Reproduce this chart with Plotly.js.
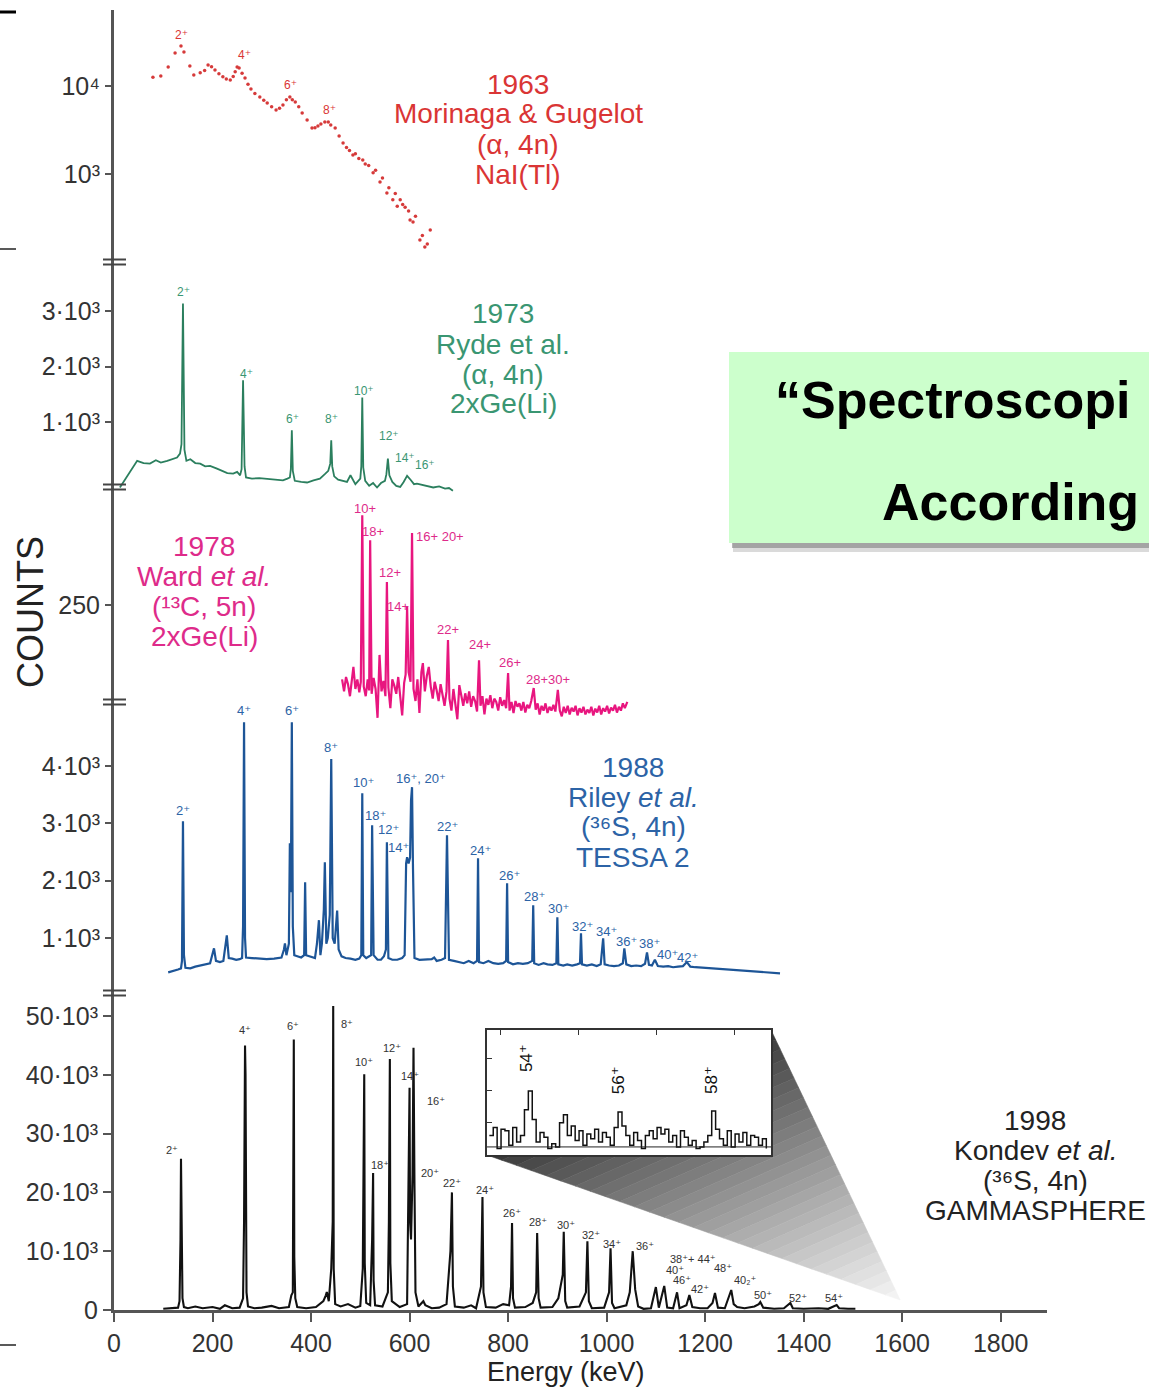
<!DOCTYPE html>
<html><head><meta charset="utf-8">
<script src="https://cdn.plot.ly/plotly-3.0.1.min.js"></script>
<style>html,body{margin:0;padding:0;background:#fff;}#chart{width:1149px;height:1389px;}</style>
</head><body><div id="chart"></div>
<script>
// ===================== DATA =====================
// x axis (shared)
const energyTicks = [0, 200, 400, 600, 800, 1000, 1200, 1400, 1600, 1800];

// 1963 Morinaga & Gugelot (log counts)
const redEnergy = [79,95,110,124,136,142,154,162,175,184,191,198,205,213,221,228,236,242,246,250,254,260,266,272,278,286,296,304,311,320,329,336,343,350,357,362,368,375,382,392,402,408,414,420,428,435,440,449,457,465,472,478,485,490,497,505,510,517,526,531,540,545,554,558,566,571,575,581,586,591,598,601,607,612,621,626,631,636,642];
const redCounts = [12600,13000,16400,23700,28500,24300,16900,13300,14100,15000,17300,16500,15200,13800,12700,12000,11700,12800,14500,16400,16000,14000,12300,10500,9250,8200,7500,6900,6400,5800,5340,5600,6080,7000,7500,7000,6580,5800,4930,4100,3330,3350,3510,3700,3900,3900,3600,3330,2700,2250,2000,1850,1640,1700,1500,1440,1300,1250,1030,1100,810,900,610,700,510,600,430,510,450,420,380,300,285,330,178,200,148,160,231];
const redTickVals = [1000, 10000];
const redTickText = ['10³', '10⁴'];
const redLabels = ['2⁺','4⁺','6⁺','8⁺'];
const redLabelE = [138, 264, 359, 438];
const redLabelC = [38000, 22500, 10300, 5340];

// 1973 Ryde et al.
const greenEnergy = [12,25,39,47,60,73,85,95,108,118,128,134,137,140,143,147,155,165,175,185,195,209,220,230,242,250,256,259,262,265,268,280,295,311,325,343,352,357,359,361,363,367,380,392,405,418,428,435,439,441,443,447,455,465,473,480,490,500,502,504,506,510,518,526,534,542,550,553,556,559,565,573,581,588,595,602,609,615,625,635,648,660,672,680,688];
const greenCounts = [-180,0,180,300,260,250,310,270,300,330,360,430,600,3135,500,300,330,260,250,200,210,160,120,80,70,100,40,150,1750,200,0,-20,-10,-20,-40,-50,-20,0,150,850,120,-60,-80,-90,-50,-20,60,120,250,670,200,20,-40,-60,-80,40,-120,-20,200,1440,180,-60,-150,-100,-180,-100,-60,60,340,40,-80,-150,-170,-80,30,-40,-120,-110,-130,-150,-180,-160,-200,-190,-240];
const greenTickVals = [1000, 2000, 3000];
const greenTickText = ['1·10³', '2·10³', '3·10³'];
const greenLabels = ['2⁺','4⁺','6⁺','8⁺','10⁺','12⁺','14⁺','16⁺'];
const greenLabelE = [142, 268, 363, 441, 508, 558, 591, 631];
const greenLabelC = [3342, 1865, 1054, 1054, 1558, 748, 351, 225];

// 1978 Ward et al.
const pinkEnergy = [463,467,471,475,479,482,486,490,494,498,501,504,507,511,515,518,520,523,527,531,535,539,543,547,551,554,557,561,565,569,573,577,581,585,589,592,595,598,602,605,608,612,616,620,624,627,631,635,639,643,647,651,655,659,663,667,671,675,678,681,685,689,693,697,701,705,709,713,717,721,725,729,733,737,741,744,748,752,756,760,764,768,772,776,780,784,788,792,796,800,803,807,811,815,819,823,827,831,835,839,843,847,852,856,860,864,868,872,876,880,884,888,892,896,901,905,909,913,917,921,925,929,933,937,941,945,949,953,957,961,965,969,973,977,981,985,989,993,997,1001,1005,1009,1013,1017,1021,1025,1029,1033,1037,1042];
const pinkCounts = [95,70,100,85,60,92,121,75,95,68,90,437,80,60,95,72,385,65,98,75,15,146,70,92,60,298,78,35,95,82,65,100,55,20,88,105,246,110,90,400,75,50,95,25,110,129,70,102,121,80,55,90,72,50,85,62,40,70,177,55,30,75,48,12,83,58,40,66,45,70,38,60,50,28,135,40,60,22,55,42,62,35,55,48,30,58,40,52,35,108,30,48,25,50,38,45,30,48,26,42,35,50,77,32,45,22,40,30,45,25,38,30,42,28,73,30,18,38,25,40,22,36,28,40,20,35,26,38,22,32,25,38,20,34,26,40,22,35,28,40,24,36,30,42,26,38,30,45,35,48];
const pinkTickVals = [250];
const pinkTickText = ['250'];
const pinkLabels = ['10+','18+','16+ 20+','12+','14+','22+','24+','26+','28+30+'];
const pinkLabelE = [510, 526, 662, 560, 577, 678, 743, 804, 881];
const pinkLabelC = [452, 404, 392, 317, 246, 198, 167, 131, 94];

// 1988 Riley et al.
const blueEnergy = [110,120,130,136,138,140,142,145,155,165,175,185,195,203,207,215,222,229,233,240,248,255,260,262,264,266,268,280,295,310,325,340,345,347,350,355,357,359,361,363,366,372,380,386,388,390,398,408,412,416,419,422,426,428,431,434,438,441,444,448,453,456,462,470,480,490,498,502,504,506,512,518,522,524,527,535,542,548,552,554,557,565,575,585,590,593,595,598,601,603,605,607,610,620,635,645,650,655,665,672,676,680,690,700,710,720,730,737,739,741,750,760,770,780,790,796,798,800,810,820,830,840,849,851,853,862,872,880,890,898,900,902,912,920,930,940,946,948,950,960,970,980,988,993,996,1005,1015,1025,1033,1036,1040,1050,1060,1070,1078,1082,1086,1092,1098,1104,1115,1125,1135,1145,1155,1163,1170,1180,1195,1210,1225,1240,1255,1270,1285,1300,1315,1330,1352];
const blueCounts = [400,420,450,470,600,3037,700,480,470,500,520,540,560,820,600,580,600,1047,650,640,620,630,650,1200,4764,1000,660,650,640,630,640,660,800,907,700,900,2650,1800,4764,1200,700,680,660,700,1970,700,680,650,900,1310,700,900,1500,2320,900,1000,1400,4120,1000,900,1480,800,680,650,640,620,640,700,3525,700,650,680,700,2967,700,620,620,680,800,2670,650,620,620,650,700,2300,2408,2300,2400,3400,3630,2200,650,620,620,630,660,600,620,650,2790,620,600,580,560,600,560,600,2390,580,560,600,560,550,560,600,1955,580,540,560,550,560,600,1570,560,530,560,540,530,560,1360,540,520,540,520,540,560,1080,540,520,540,510,540,995,540,520,510,520,560,820,540,510,520,510,550,750,530,520,620,510,500,510,490,500,510,580,500,490,480,470,460,450,440,430,420,410,400,390,384];
const blueTickVals = [1000, 2000, 3000, 4000];
const blueTickText = ['1·10³', '2·10³', '3·10³', '4·10³'];
const blueLabels = ['2⁺','4⁺','6⁺','8⁺','10⁺','16⁺, 20⁺','18⁺','12⁺','14⁺','22⁺','24⁺','26⁺','28⁺','30⁺','32⁺','34⁺','36⁺','38⁺','40⁺','42⁺'];
const blueLabelE = [140, 264, 361, 441, 506, 623, 530, 558, 577, 678, 745, 802, 853, 903, 952, 999, 1041, 1088, 1123, 1165];
const blueLabelC = [3229, 4974, 4974, 4328, 3717, 3787, 3141, 2897, 2583, 2949, 2530, 2094, 1728, 1518, 1204, 1117, 942, 908, 716, 663];

// 1998 Kondev et al.
const blackEnergy = [100,120,130,133,135,136,137,139,142,150,165,180,200,215,225,240,255,262,264,266,267,269,272,285,300,320,335,355,360,363,364,365,366,368,372,390,410,425,430,432,436,441,444,445,446,449,460,475,490,500,505,507,508,509,512,520,524,526,527,530,545,556,558,560,561,564,580,595,598,600,601,603,606,608,610,612,618,628,632,645,660,675,683,686,688,692,710,725,735,745,748,750,755,775,790,802,806,808,810,814,835,850,857,859,862,866,890,902,911,913,916,920,945,958,961,964,970,995,1005,1008,1011,1016,1040,1047,1053,1058,1064,1075,1090,1100,1106,1117,1123,1135,1143,1148,1162,1168,1174,1190,1205,1215,1220,1226,1240,1253,1258,1265,1280,1300,1309,1312,1318,1340,1360,1370,1373,1378,1400,1430,1450,1467,1472,1490,1505];
const blackCounts = [200,300,400,1500,12000,25700,15000,2000,500,300,600,300,500,200,800,300,400,2000,15000,45000,40000,3000,600,300,400,700,300,500,2500,3000,20000,46000,9000,2000,500,300,500,1500,2500,3060,1500,7000,15000,51700,7000,1000,600,1000,400,700,7000,30000,40100,8000,1200,800,12000,23300,5000,800,600,3000,15000,42700,8000,1500,500,1000,20000,37800,15000,12000,23000,44600,21000,3000,600,1500,800,300,400,1000,10000,20000,4000,600,400,800,300,4000,19200,3000,500,400,1000,800,4000,14800,2000,400,500,1200,3000,13100,2000,400,500,2000,6000,13300,1500,400,600,3000,11700,1500,300,400,3000,10500,1200,300,800,3000,10000,3500,600,200,300,3900,400,4100,400,300,3000,300,800,2550,500,300,300,1200,2900,400,300,3400,1000,500,300,600,1000,1360,400,200,300,900,1190,300,200,300,200,850,300,200,200];
const blackTickVals = [0, 10000, 20000, 30000, 40000, 50000];
const blackTickText = ['0', '10·10³', '20·10³', '30·10³', '40·10³', '50·10³'];
const blackLabels = ['2⁺','4⁺','6⁺','8⁺','10⁺','12⁺','14⁺','16⁺','18⁺','20⁺','22⁺','24⁺','26⁺','28⁺','30⁺','32⁺','34⁺','36⁺','38⁺+ 44⁺','40⁺','46⁺','42⁺','48⁺','40₂⁺','50⁺','52⁺','54⁺'];
const blackLabelE = [118,266,363,473,507,564,601,654,540,641,686,753,808,861,918,968,1011,1078,1175,1139,1153,1190,1236,1281,1317,1389,1462];
const blackLabelC = [27211,47620,48300,48640,42177,44558,39796,35545,24660,23300,21600,20408,16497,14966,14456,12755,11225,10884,8674,6803,5102,3571,7143,5102,2551,2041,2041];

// Inset (high-spin region, 54+ .. 58+)
const insetEnergy = [1486,1491,1496,1501,1506,1511,1516,1521,1526,1531,1536,1541,1546,1551,1556,1561,1566,1571,1576,1581,1586,1591,1596,1601,1606,1611,1616,1621,1626,1631,1636,1641,1646,1651,1656,1661,1666,1671,1676,1681,1686,1691,1696,1701,1706,1711,1716,1721,1726,1731,1736,1741,1746,1751,1756,1761,1766,1771,1776,1781,1786,1791,1796,1801,1806,1811,1816,1821,1826,1831,1836,1841];
const insetCounts = [60,85,20,80,75,30,85,40,60,140,198,110,40,70,55,20,35,25,100,125,60,90,45,75,30,65,50,80,40,70,55,30,85,133,90,60,30,70,45,20,60,75,50,85,65,80,40,60,25,75,55,30,45,20,25,40,60,136,80,50,30,75,25,65,40,70,30,60,55,30,50,20];
const insetTickVals = [1500, 1600, 1700, 1800];
const insetYTickVals = [100, 200, 300];
const insetLabels = ['54⁺', '56⁺', '58⁺'];
const insetLabelE = [1533, 1651, 1770];
const insetLabelC = [300, 232, 232];
const insetBackground = 25;
const zoomApex = [1596, 1700]; // point on the main spectrum the inset magnifies (keV, counts)

// Text blocks
const block1963 = ['1963', 'Morinaga &amp; Gugelot', '(α, 4n)', 'NaI(Tl)'];
const block1973 = ['1973', 'Ryde et al.', '(α, 4n)', '2xGe(Li)'];
const block1978 = ['1978', 'Ward <i>et al.</i>', '(¹³C, 5n)', '2xGe(Li)'];
const block1988 = ['1988', 'Riley <i>et al.</i>', '(³⁶S, 4n)', 'TESSA 2'];
const block1998 = ['1998', 'Kondev <i>et al.</i>', '(³⁶S, 4n)', 'GAMMASPHERE'];
const bannerLines = ['“Spectroscopi', 'According'];

// ===================== LAYOUT HELPERS =====================
const FONT = 'Liberation Sans, Arial, Helvetica, DejaVu Sans, sans-serif';
const W = 1149, H = 1389;
const PL = 114, PR = 1047, PT = 10, PB = 1310;
function fx(px) { return (px - PL) / (PR - PL); }
function fy(py) { return (PB - py) / (PB - PT); }

const C_RED = '#d63a3a', C_GREEN = '#2b7f5e', C_PINK = '#e8167f', C_BLUE = '#1d5597', C_BLACK = '#111111';
const T_RED = '#da3535', T_GREEN = '#3a9672', T_PINK = '#de2b8a', T_BLUE = '#2c63a6', T_BLACK = '#222222';

const xRange = [0, 1894];
const blackRange = [0, 221088];
const blueRange = [-5488, 17184];
const pinkRange = [-1218.75, 1489.6];
const greenRange = [-14999, 8423];
const redRange = [-9.909, 4.8636];

const insetDomX = [fx(487), fx(771)];
const insetDomY = [fy(1155), fy(1030)];

const tickStyle = {
  ticks: 'outside', ticklen: 8, tickwidth: 2, tickcolor: '#555',
  tickfont: {family: FONT, size: 25, color: '#333'},
  showgrid: false, zeroline: false, fixedrange: true
};
function yAx(extra) { return Object.assign({}, tickStyle, {domain: [0, 1], side: 'left', tickmode: 'array'}, extra); }

// ===================== TRACES =====================
const traces = [
  {x: blackEnergy, y: blackCounts, xaxis: 'x', yaxis: 'y', mode: 'lines', line: {color: C_BLACK, width: 2.1}, hoverinfo: 'skip'},
  {x: blueEnergy, y: blueCounts, xaxis: 'x', yaxis: 'y2', mode: 'lines', line: {color: C_BLUE, width: 2.2}, hoverinfo: 'skip'},
  {x: pinkEnergy, y: pinkCounts, xaxis: 'x', yaxis: 'y3', mode: 'lines', line: {color: C_PINK, width: 2.2}, hoverinfo: 'skip'},
  {x: greenEnergy, y: greenCounts, xaxis: 'x', yaxis: 'y4', mode: 'lines', line: {color: C_GREEN, width: 1.8}, hoverinfo: 'skip'},
  {x: redEnergy, y: redCounts, xaxis: 'x', yaxis: 'y5', mode: 'markers', marker: {color: C_RED, size: 3.5}, hoverinfo: 'skip'},
  {x: insetEnergy, y: insetCounts, xaxis: 'x2', yaxis: 'y6', mode: 'lines', line: {color: C_BLACK, width: 1.5, shape: 'hv'}, hoverinfo: 'skip'}
];

// ===================== SHAPES =====================
const shapes = [];
// zoom "projection" gradient, from inset bottom-left / top-right corners to the apex
const A = [xRange[0] + insetDomX[0] * (xRange[1] - xRange[0]), blackRange[0] + insetDomY[0] * (blackRange[1] - blackRange[0])];
const Bp = [xRange[0] + insetDomX[1] * (xRange[1] - xRange[0]), blackRange[0] + insetDomY[1] * (blackRange[1] - blackRange[0])];
const Cp = zoomApex;
const NB = 28;
function lerp(p, q, s) { return [p[0] + s * (q[0] - p[0]), p[1] + s * (q[1] - p[1])]; }
for (let i = 0; i < NB; i++) {
  const s0 = i / NB, s1 = (i + 1) / NB;
  const p0 = lerp(A, Cp, s0), q0 = lerp(Bp, Cp, s0), q1 = lerp(Bp, Cp, s1), p1 = lerp(A, Cp, s1);
  const g = Math.round(52 + (246 - 52) * Math.pow((s0 + s1) / 2, 0.9));
  const col = 'rgb(' + g + ',' + g + ',' + g + ')';
  shapes.push({type: 'path', xref: 'x', yref: 'y', layer: 'below',
    path: 'M' + p0[0] + ',' + p0[1] + ' L' + q0[0] + ',' + q0[1] + ' L' + q1[0] + ',' + q1[1] + ' L' + p1[0] + ',' + p1[1] + ' Z',
    fillcolor: col, line: {color: col, width: 0.6}});
}
// inset fit background line
shapes.push({type: 'line', xref: 'x2', yref: 'y6', x0: 1483, x1: 1847, y0: insetBackground, y1: insetBackground, line: {color: '#222', width: 1}});
// axis breaks
[262, 487, 702, 993].forEach(function (py) {
  [py - 2.5, py + 2.5].forEach(function (yy) {
    shapes.push({type: 'line', xref: 'paper', yref: 'paper', x0: fx(103), x1: fx(126), y0: fy(yy), y1: fy(yy), line: {color: '#444', width: 2}});
  });
});
// slide edge marks
shapes.push({type: 'line', xref: 'paper', yref: 'paper', x0: fx(0), x1: fx(16), y0: fy(12), y1: fy(12), line: {color: '#000', width: 3}});
shapes.push({type: 'line', xref: 'paper', yref: 'paper', x0: fx(0), x1: fx(16), y0: fy(249), y1: fy(249), line: {color: '#222', width: 1.5}});
shapes.push({type: 'line', xref: 'paper', yref: 'paper', x0: fx(0), x1: fx(16), y0: fy(1345), y1: fy(1345), line: {color: '#222', width: 1.5}});
// banner with shadow
shapes.push({type: 'rect', xref: 'paper', yref: 'paper', x0: fx(733), x1: fx(1170), y0: fy(552), y1: fy(543), fillcolor: 'rgba(150,150,150,0.35)', line: {width: 0}, layer: 'above'});
shapes.push({type: 'rect', xref: 'paper', yref: 'paper', x0: fx(732), x1: fx(1170), y0: fy(548), y1: fy(543), fillcolor: 'rgba(120,120,120,0.55)', line: {width: 0}, layer: 'above'});
shapes.push({type: 'rect', xref: 'paper', yref: 'paper', x0: fx(729), x1: fx(1170), y0: fy(543), y1: fy(352), fillcolor: '#ccffcc', line: {width: 0}, layer: 'above'});

// ===================== ANNOTATIONS =====================
const ann = [];
function peakLabels(texts, es, cs, yref, color, size, isLog) {
  for (let i = 0; i < texts.length; i++) {
    ann.push({x: es[i], y: isLog ? Math.log10(cs[i]) : cs[i], xref: 'x', yref: yref, text: texts[i],
      showarrow: false, xanchor: 'center', yanchor: 'middle', font: {family: FONT, size: size, color: color}});
  }
}
peakLabels(redLabels, redLabelE, redLabelC, 'y5', T_RED, 12, true);
peakLabels(greenLabels, greenLabelE, greenLabelC, 'y4', T_GREEN, 12, false);
peakLabels(pinkLabels, pinkLabelE, pinkLabelC, 'y3', T_PINK, 13, false);
peakLabels(blueLabels, blueLabelE, blueLabelC, 'y2', T_BLUE, 13, false);
peakLabels(blackLabels, blackLabelE, blackLabelC, 'y', '#333', 11, false);
for (let i = 0; i < insetLabels.length; i++) {
  ann.push({x: insetLabelE[i], y: insetLabelC[i], xref: 'x2', yref: 'y6', text: insetLabels[i], textangle: -90,
    showarrow: false, font: {family: FONT, size: 17, color: '#111'}});
}
function block(lines, cx, y0, color) {
  lines.forEach(function (t, i) {
    ann.push({x: fx(cx), y: fy(y0 + i * 30), xref: 'paper', yref: 'paper', text: t, showarrow: false,
      xanchor: 'center', yanchor: 'middle', font: {family: FONT, size: 28, color: color}});
  });
}
block(block1963, 518, 84, T_RED);
block(block1973, 503, 314, T_GREEN);
block(block1978, 204, 546, T_PINK);
block(block1988, 633, 767, T_BLUE);
block(block1998, 1035, 1120, T_BLACK);
ann.push({x: fx(30), y: fy(612), xref: 'paper', yref: 'paper', text: 'COUNTS', textangle: -90, showarrow: false,
  xanchor: 'center', yanchor: 'middle', font: {family: FONT, size: 36, color: '#222'}});
ann.push({x: fx(566), y: fy(1372), xref: 'paper', yref: 'paper', text: 'Energy (keV)', showarrow: false,
  xanchor: 'center', yanchor: 'middle', font: {family: FONT, size: 27, color: '#222'}});
ann.push({x: fx(773), y: fy(400), xref: 'paper', yref: 'paper', text: '<b>' + bannerLines[0] + '</b>', showarrow: false,
  xanchor: 'left', yanchor: 'middle', font: {family: FONT, size: 52, color: '#000'}});
ann.push({x: fx(880), y: fy(502), xref: 'paper', yref: 'paper', text: '<b>' + bannerLines[1] + '</b>', showarrow: false,
  xanchor: 'left', yanchor: 'middle', font: {family: FONT, size: 52, color: '#000'}});

// ===================== LAYOUT =====================
const layout = {
  width: W, height: H,
  margin: {l: PL, r: W - PR, t: PT, b: H - PB, pad: 0},
  paper_bgcolor: '#fff', plot_bgcolor: '#fff',
  showlegend: false,
  font: {family: FONT},
  xaxis: Object.assign({}, tickStyle, {domain: [0, 1], range: xRange, anchor: 'y', tickmode: 'array', tickvals: energyTicks,
    showline: true, linecolor: '#555', linewidth: 3, ticklen: 9}),
  yaxis: yAx({range: blackRange, tickvals: blackTickVals, ticktext: blackTickText, showline: true, linecolor: '#555', linewidth: 3}),
  yaxis2: yAx({overlaying: 'y', range: blueRange, tickvals: blueTickVals, ticktext: blueTickText, showline: false}),
  yaxis3: yAx({overlaying: 'y', range: pinkRange, tickvals: pinkTickVals, ticktext: pinkTickText, showline: false}),
  yaxis4: yAx({overlaying: 'y', range: greenRange, tickvals: greenTickVals, ticktext: greenTickText, showline: false}),
  yaxis5: yAx({overlaying: 'y', type: 'log', range: redRange, tickvals: redTickVals, ticktext: redTickText, showline: false}),
  xaxis2: {domain: insetDomX, anchor: 'y6', range: [1483, 1847], side: 'top', tickmode: 'array', tickvals: insetTickVals,
    ticks: 'inside', ticklen: 5, tickcolor: '#333', showticklabels: false, showline: true, mirror: true,
    linecolor: '#333', linewidth: 1.6, showgrid: false, zeroline: false, fixedrange: true},
  yaxis6: {domain: insetDomY, anchor: 'x2', range: [0, 387], tickmode: 'array', tickvals: insetYTickVals,
    ticks: 'inside', ticklen: 5, tickcolor: '#333', showticklabels: false, showline: true, mirror: true,
    linecolor: '#333', linewidth: 1.6, showgrid: false, zeroline: false, fixedrange: true},
  shapes: shapes,
  annotations: ann
};

Plotly.newPlot('chart', traces, layout, {displayModeBar: false, staticPlot: true});
</script>
</body></html>
